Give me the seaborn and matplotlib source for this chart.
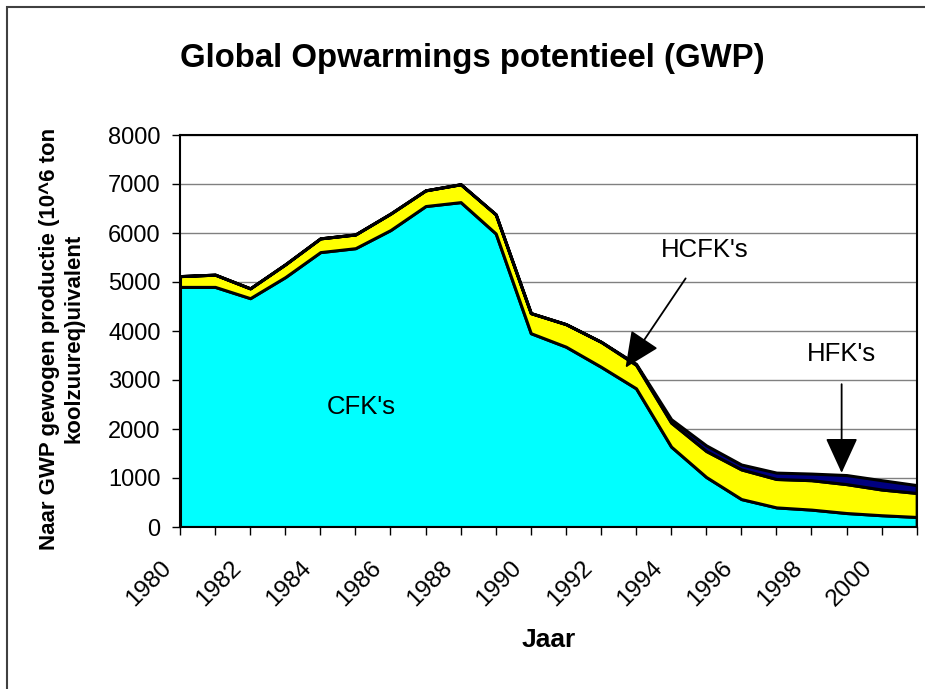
import numpy as np
import pandas as pd
import matplotlib
matplotlib.use("Agg")
import matplotlib.pyplot as plt
import matplotlib.transforms as mtrans
import seaborn as sns
from matplotlib.patches import Rectangle

years = list(range(1980, 2002))
cfk = [4900, 4900, 4670, 5100, 5610, 5690, 6060, 6550, 6630, 5990, 3955,
       3680, 3270, 2830, 1640, 1020, 570, 400, 355, 285, 240, 205]
hcfk = [220, 250, 200, 260, 280, 280, 335, 320, 365, 390, 410,
        460, 510, 480, 490, 530, 605, 580, 600, 590, 525, 490]
hfk = [0, 0, 0, 0, 0, 0, 0, 0, 0, 0, 0,
       0, 0, 20, 70, 115, 100, 130, 135, 185, 190, 160]
tick_years = list(range(1980, 2001, 2))
yticks = list(range(0, 8001, 1000))

title = "Global Opwarmings potentieel (GWP)"
ylabel = "Naar GWP gewogen productie (10^6 ton\nkoolzuureq)uivalent"
xlabel = "Jaar"

sns.set_style("white")
plt.rcParams['font.family'] = ['Liberation Sans', 'DejaVu Sans']
plt.rcParams.update({"text.color": "black", "axes.labelcolor": "black",
                     "xtick.color": "black", "ytick.color": "black"})

fig = plt.figure(figsize=(9.25, 6.89), dpi=100)
ax = fig.add_axes([180/925, 1-527/689, (916.7-180)/925, (527-135)/689])

df = pd.DataFrame({"Jaar": years, "CFK's": cfk, "HCFK's": hcfk, "HFK's": hfk})
ax.stackplot(df["Jaar"], df["CFK's"], df["HCFK's"], df["HFK's"],
             colors=["#00FFFF", "#FFFF00", "#000080"],
             edgecolor="black", linewidth=2.2, zorder=2)

ax.set_xlim(1980, 2001)
ax.set_ylim(0, 8000)
ax.set_yticks(yticks)
ax.set_xticks(years)
ax.set_xticklabels([str(y) if y in tick_years else "" for y in years],
                   rotation=45, ha="right", va="top", rotation_mode="anchor")
ax.tick_params(axis="y", labelsize=17, direction="out", length=6, width=1,
               left=True, pad=8)
ax.tick_params(axis="x", labelsize=17.5, direction="out", length=6, width=1,
               bottom=True, pad=14)
shift = mtrans.ScaledTranslation(-20/100, -2/100, fig.dpi_scale_trans)
for lab in ax.get_xticklabels():
    lab.set_transform(lab.get_transform() + shift)
ax.yaxis.grid(True, color="#808080", linewidth=1, zorder=0)
ax.set_axisbelow(True)
for s in ax.spines.values():
    s.set_color("black")
    s.set_linewidth(1.5)
    s.set_zorder(5)

ax.set_ylabel(ylabel, fontsize=16, fontweight="bold", linespacing=1.25)
ax.yaxis.set_label_coords((85 - 180) / (916.7 - 180), 0.48)
ax.set_xlabel(xlabel, fontsize=19, fontweight="bold")
ax.xaxis.set_label_coords(0.5, -(640 - 527) / (527 - 135))
ax.xaxis.label.set_va("center")
fig.text(472/925, 1-58/689, title, fontsize=23.7, fontweight="bold",
         ha="center", va="center")

ax.text(1985.16, 2454, "CFK's", fontsize=18.5, ha="center", va="center", zorder=6)
ax.annotate("HCFK's", xy=(1992.70, 3252), xytext=(1994.95, 5644),
            fontsize=18.5, ha="center", va="center", zorder=6,
            arrowprops=dict(arrowstyle="-|>,head_length=1.2,head_width=0.55",
                            color="black", lw=1.3, shrinkA=11, shrinkB=0))
ax.annotate("HFK's", xy=(1998.86, 1104), xytext=(1998.86, 3538),
            fontsize=18.5, ha="center", va="center", zorder=6,
            arrowprops=dict(arrowstyle="-|>,head_length=1.2,head_width=0.55",
                            color="black", lw=1.3, shrinkA=11, shrinkB=0))

fig.patches.append(Rectangle((7/925, -0.1), 1.2, 1 - 7/689 + 0.1,
                             transform=fig.transFigure, fill=False,
                             edgecolor="#404040", linewidth=1.5))

fig.savefig("out.png", dpi=100)
